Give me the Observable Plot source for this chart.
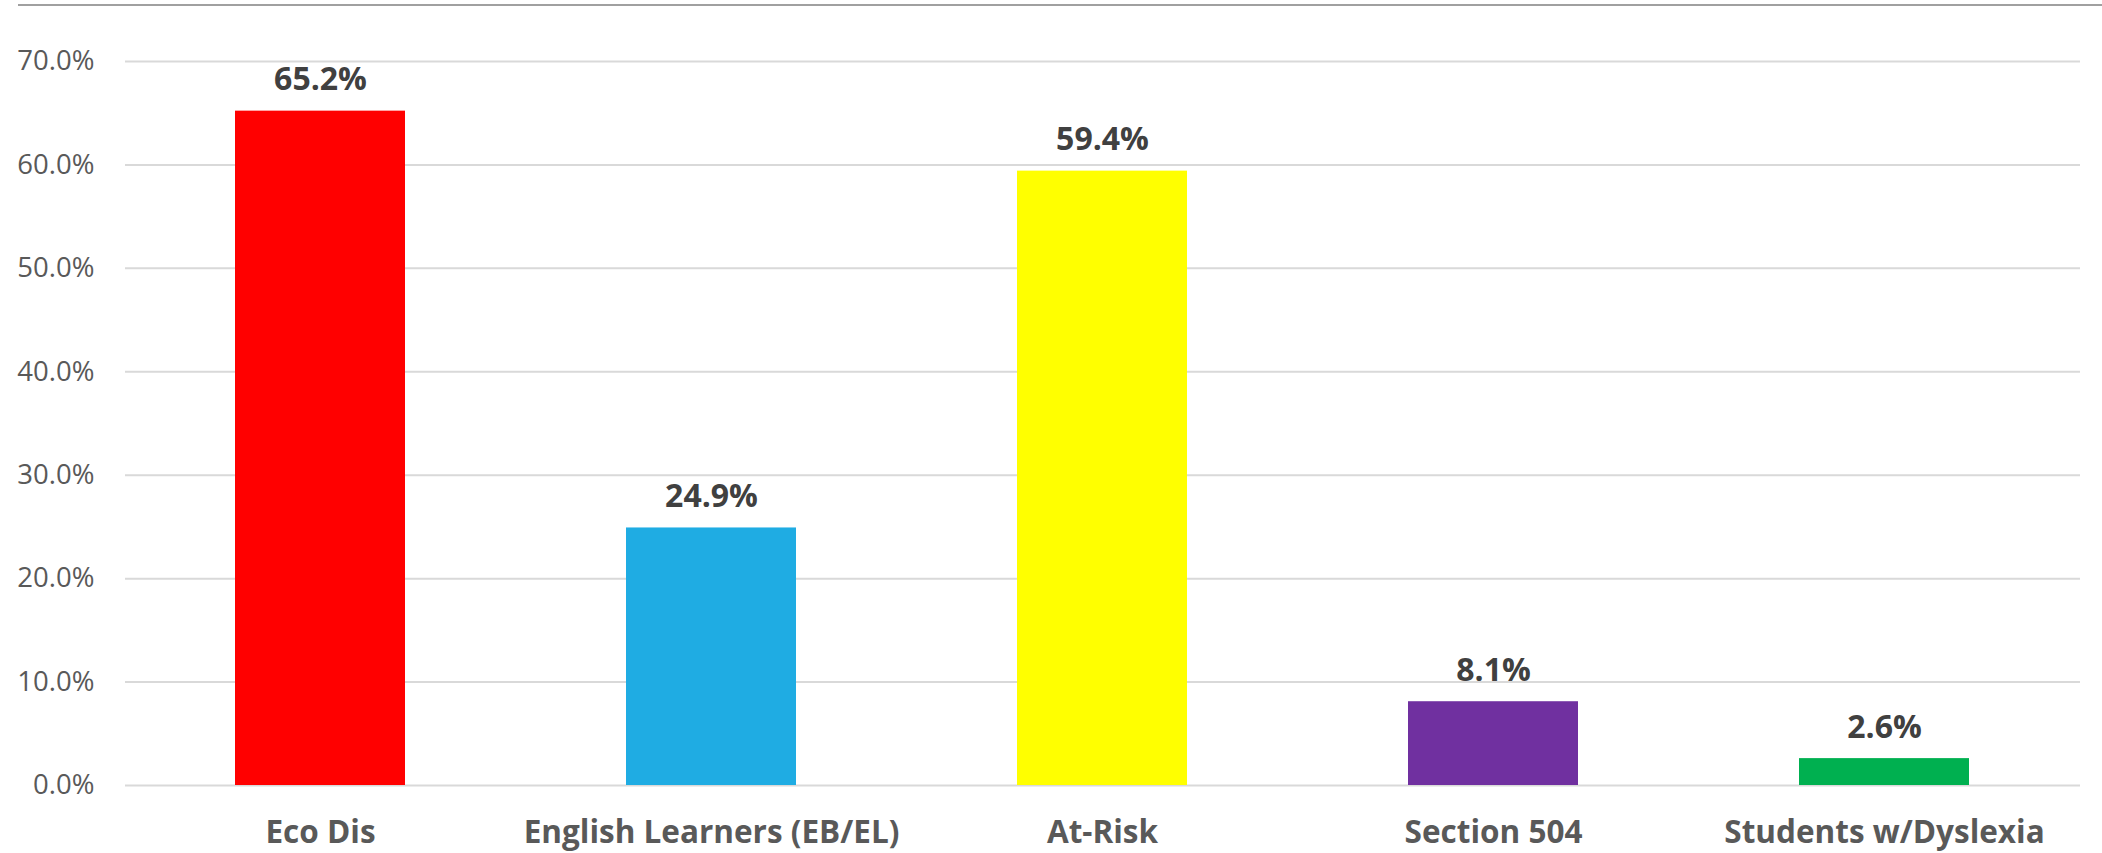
<!DOCTYPE html>
<html>
<head>
<meta charset="utf-8">
<script src="https://cdn.jsdelivr.net/npm/d3@7"></script>
<script src="https://cdn.jsdelivr.net/npm/@observablehq/plot@0.6"></script>
<style>
  html, body { margin: 0; padding: 0; background: #fff; }
  #wrap { position: relative; width: 2102px; height: 853px; }
  #topline { position: absolute; top: 4px; left: 18px; right: 0; border-top: 2px solid #a0a0a0; }
  svg { display: block; }
</style>
</head>
<body>
<div id="wrap"><div id="topline"></div></div>
<script>
const categories = ["Eco Dis", "English Learners (EB/EL)", "At-Risk", "Section 504", "Students w/Dyslexia"];
const values = [65.2, 24.9, 59.4, 8.1, 2.6];
const barColors = ["#FF0000", "#1FACE3", "#FFFF00", "#7030A0", "#00B050"];
const yTicks = [0, 10, 20, 30, 40, 50, 60, 70];

const data = categories.map((c, i) => ({cat: c, val: values[i]}));

const chart = Plot.plot({
  width: 2102,
  height: 853,
  marginLeft: 125,
  marginRight: 22,
  marginTop: 61,
  marginBottom: 68,
  style: {fontFamily: "'Open Sans', sans-serif", background: "transparent"},
  x: {domain: categories, paddingInner: 0.565, paddingOuter: 0.2825, label: null},
  y: {domain: [0, 70], label: null},
  color: {domain: categories, range: barColors},
  marks: [
    Plot.ruleY(yTicks, {stroke: "#d9d9d9", strokeWidth: 2}),
    Plot.barY(data, {x: "cat", y: "val", fill: "cat"}),
    Plot.text(data, {
      x: "cat", y: "val",
      text: d => d.val.toFixed(1) + "%",
      lineAnchor: "bottom", dy: -21,
      fontSize: 32, fontWeight: "bold", fill: "#404040"
    }),
    Plot.axisY({
      ticks: yTicks, tickFormat: d => d.toFixed(1) + "%",
      tickSize: 0, tickPadding: 31, label: null,
      fontSize: 27.5, color: "#595959"
    }),
    Plot.axisX({
      tickSize: 0, tickPadding: 35, label: null,
      fontSize: 31.5, fontWeight: "bold", color: "#595959"
    })
  ]
});
document.getElementById("wrap").appendChild(chart);
</script>
</body>
</html>
